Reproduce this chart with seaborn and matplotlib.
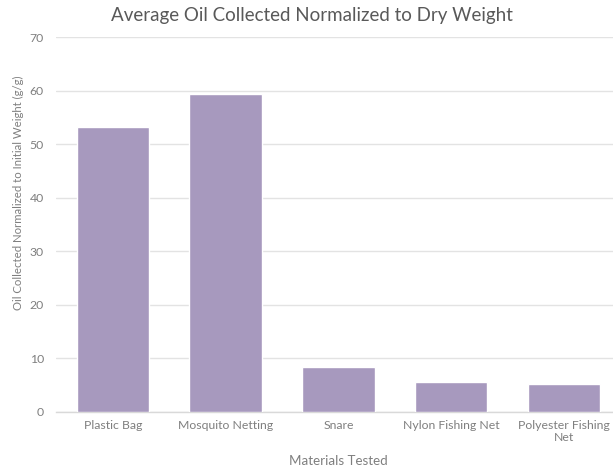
import matplotlib
matplotlib.use("Agg")
import matplotlib.pyplot as plt
import seaborn as sns
import pandas as pd

materials = ["Plastic Bag", "Mosquito Netting", "Snare", "Nylon Fishing Net",
             "Polyester Fishing\nNet"]
oil_collected = [53.3, 59.4, 8.4, 5.5, 5.2]
y_ticks = [0, 10, 20, 30, 40, 50, 60, 70]

df = pd.DataFrame({"Material": materials, "Oil": oil_collected})

sns.set_theme(style="white")
plt.rcParams["font.family"] = ["Lato", "DejaVu Sans"]

fig = plt.figure(figsize=(6.13, 4.65), dpi=100)
ax = fig.add_axes([0.092, 0.1146, 0.920, 0.8052])

sns.barplot(data=df, x="Material", y="Oil", color="#A799BE", width=0.643,
            saturation=1, ax=ax, zorder=3)

ax.set_xlim(-0.5, 4.5)
ax.set_ylim(0, 70)
ax.set_yticks(y_ticks)
ax.grid(axis="y", color="#E3E3E3", linewidth=1.0, zorder=0)
ax.grid(axis="x", visible=False)
for side in ["top", "right", "left"]:
    ax.spines[side].set_visible(False)
ax.spines["bottom"].set_color("#D9D9D9")
ax.spines["bottom"].set_linewidth(1.0)
ax.tick_params(axis="both", length=0, colors="#7F7F7F", labelsize=8.8)
ax.tick_params(axis="y", pad=9)
ax.tick_params(axis="x", pad=6)
for lbl in ax.get_xticklabels():
    lbl.set_linespacing(1.15)

ax.set_xlabel("Materials Tested", fontsize=9.6, color="#7F7F7F", labelpad=8)
ax.set_ylabel("Oil Collected Normalized to Initial Weight (g/g)", fontsize=8.2,
              color="#7F7F7F")
ax.yaxis.set_label_coords(-0.058, 0.585)

fig.text(0.509, 0.967, "Average Oil Collected Normalized to Dry Weight",
         ha="center", va="center", fontsize=13.5, color="#595959")

fig.savefig("out.png", dpi=100)
